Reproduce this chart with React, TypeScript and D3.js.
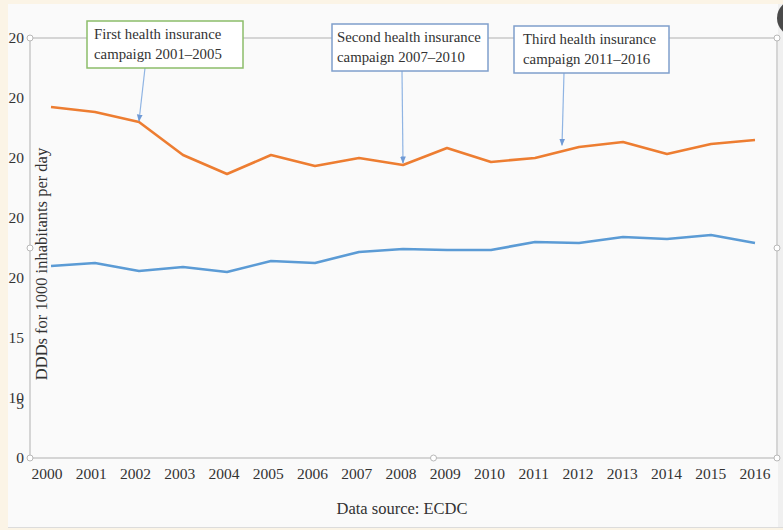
import React from "react";
import * as d3 from "d3";

const years = [2000, 2001, 2002, 2003, 2004, 2005, 2006, 2007, 2008, 2009, 2010, 2011, 2012, 2013, 2014, 2015, 2016];
const orangeSeries = [29.25, 28.83, 28.0, 25.25, 23.67, 25.25, 24.33, 25.0, 24.42, 25.83, 24.67, 25.0, 25.92, 26.33, 25.33, 26.17, 26.5];
const blueSeries = [16.0, 16.25, 15.58, 15.92, 15.5, 16.42, 16.25, 17.17, 17.42, 17.33, 17.33, 18.0, 17.92, 18.42, 18.25, 18.58, 17.92];
const yTickValues = [0, 5, 10, 15, 20, 25, 30, 35];
const yTickLabels = ["0", "10", "15", "20", "20", "20", "20", "20"];
const yExtraLabel = { value: 5, text: "5" };
const yTitle = "DDDs for 1000 inhabitants per day";
const xTitle = "Data source: ECDC";
const annotations = [
  { lines: ["First health insurance", "campaign 2001\u20132005"], color: "#8cbd6a" },
  { lines: ["Second health insurance", "campaign 2007\u20132010"], color: "#7f9fcc" },
  { lines: ["Third health insurance", "campaign 2011\u20132016"], color: "#7f9fcc" },
];

const W = 783;
const H = 530;
const font = "'Liberation Serif', 'Times New Roman', serif";

export default function App() {
  const left = 30, right = 777, top = 38, bottom = 458;
  const x = d3.scaleLinear().domain([2000, 2016]).range([51, 755]);
  const y = d3.scaleLinear().domain([0, 35]).range([bottom, top]);
  const line = d3.line<number>().x((_, i) => x(years[i])).y((d) => y(d));

  const boxes = [
    { x0: 87, y0: 21, w: 156, h: 47, tx: 94, ax0: 145, ay1: y(orangeSeries[2]) - 1, ax1: x(2002) },
    { x0: 332, y0: 24, w: 156, h: 47, tx: 337, ax0: 402, ay1: y(orangeSeries[8]) - 2, ax1: x(2008) },
    { x0: 514, y0: 26, w: 155, h: 47, tx: 523, ax0: 564, ay1: y(25.9) - 2, ax1: 562 },
  ];

  const handles: [number, number][] = [
    [left, top], [right, top], [left, bottom], [right, bottom],
    [(left + right) / 2 + 30, bottom], [left, 248], [right, 248],
  ];

  return (
    <svg width={W} height={H} style={{ position: "absolute", left: 0, top: 0 }} fontFamily={font}>
      <defs>
        <marker id="ah" viewBox="0 0 10 10" refX="9" refY="5" markerWidth="6" markerHeight="6" orient="auto">
          <path d="M0,1 L10,5 L0,9 Z" fill="#6f9ad6" />
        </marker>
      </defs>
      <rect x={0} y={0} width={W} height={H} fill="#fbf4e6" />
      <rect x={8} y={4} width={775} height={523} fill="#fafafa" />
      <line x1={8} y1={527.5} x2={783} y2={527.5} stroke="#dcdcdc" />
      <rect x={778} y={4} width={5} height={523} fill="#f0f0f0" />
      <circle cx={795} cy={18} r={18} fill="#4a4a4a" />

      <g stroke="#c9c9c9" strokeWidth={1.5} fill="none">
        <line x1={left} y1={top} x2={right} y2={top} />
        <line x1={left} y1={top} x2={left} y2={bottom} />
        <line x1={left} y1={bottom} x2={right} y2={bottom} />
        <line x1={right} y1={top} x2={right} y2={bottom} />
      </g>

      <g fontSize={15.5} fill="#333" textAnchor="end">
        {yTickValues.map((v, i) => (
          <text key={v} x={24} y={y(v)} dy="0.35em">{yTickLabels[i]}</text>
        ))}
        <text x={24} y={y(yExtraLabel.value) + 6} dy="0.35em">{yExtraLabel.text}</text>
      </g>

      <g fontSize={15.5} fill="#333" textAnchor="middle">
        {years.map((yr) => (
          <text key={yr} x={x(yr) - 4 + (yr - 2000) * 0.25} y={474} dy="0.35em">{yr}</text>
        ))}
      </g>

      <text x={402} y={508} dy="0.35em" fontSize={16.5} fill="#333" textAnchor="middle">{xTitle}</text>
      <text transform={`translate(41,264) rotate(-90)`} dy="0.35em" fontSize={16.5} fill="#333" textAnchor="middle">{yTitle}</text>

      <path d={line(orangeSeries) || ""} fill="none" stroke="#ed7d31" strokeWidth={2.6} strokeLinejoin="round" />
      <path d={line(blueSeries) || ""} fill="none" stroke="#5b9bd5" strokeWidth={2.6} strokeLinejoin="round" />

      {handles.map(([hx, hy], i) => (
        <circle key={i} cx={hx} cy={hy} r={3} fill="#fff" stroke="#b8b8b8" strokeWidth={1} />
      ))}

      {annotations.map((a, i) => {
        const b = boxes[i];
        return (
          <g key={i}>
            <line x1={b.ax0} y1={b.y0 + b.h} x2={b.ax1} y2={b.ay1} stroke="#8fb4e3" strokeWidth={1.2} markerEnd="url(#ah)" />
            <rect x={b.x0} y={b.y0} width={b.w} height={b.h} fill="#fff" stroke={a.color} strokeWidth={1.5} />
            {a.lines.map((t, j) => (
              <text key={j} x={b.tx} y={b.y0 + 13 + j * 20} dy="0.35em" fontSize={14.8} fill="#333">{t}</text>
            ))}
          </g>
        );
      })}
    </svg>
  );
}
